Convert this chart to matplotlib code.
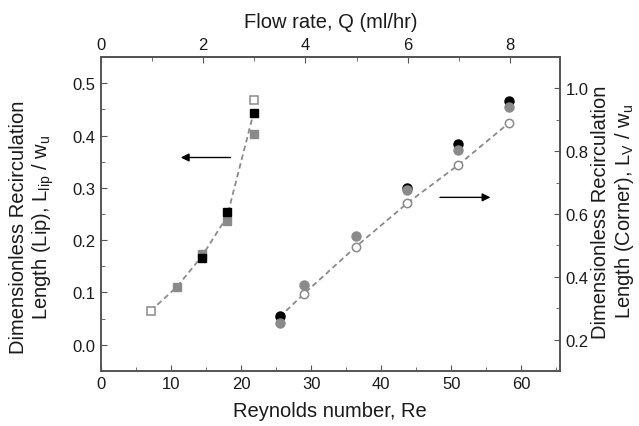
import matplotlib
matplotlib.use("Agg")
import matplotlib.pyplot as plt
from matplotlib.ticker import MultipleLocator

plt.rcParams['font.family'] = ['Liberation Sans', 'DejaVu Sans']
plt.rcParams['mathtext.fontset'] = 'custom'
plt.rcParams['mathtext.rm'] = 'Liberation Sans'
plt.rcParams['mathtext.it'] = 'Liberation Sans:italic'
plt.rcParams['mathtext.bf'] = 'Liberation Sans:bold'

# Lip data (left axis)
re_lip_open = [7.1, 21.8]
lip_open = [0.065, 0.468]
re_lip_black = [14.4, 18.0, 21.8]
lip_black = [0.165, 0.253, 0.444]
re_lip_gray = [10.8, 14.4, 18.0, 21.8]
lip_gray = [0.110, 0.173, 0.236, 0.403]
re_lip_fit = [7.1, 10.8, 14.4, 18.0, 21.8]
lip_fit = [0.065, 0.110, 0.169, 0.245, 0.444]

# Corner data (right axis)
re_cor_black = [25.5, 43.7, 51.0, 58.3]
cor_black = [0.274, 0.683, 0.822, 0.959]
re_cor_gray = [25.5, 29.0, 36.4, 43.7, 51.0, 58.3]
cor_gray = [0.253, 0.375, 0.530, 0.677, 0.803, 0.941]
re_cor_open = [25.5, 29.0, 36.4, 43.7, 51.0, 58.3]
cor_open = [0.272, 0.346, 0.496, 0.634, 0.756, 0.891]

re_per_q = 7.3

GRAY = "#8a8a8a"
SPINE = "#555555"
TXT = "#1a1a1a"

fig = plt.figure(figsize=(6.39, 4.27), dpi=100)
ax = fig.add_axes([0.158, 0.129, 0.718, 0.735])
ax2 = ax.twinx()

ax.plot(re_lip_fit, lip_fit, ls=(0, (3, 2)), color=GRAY, lw=1.3, zorder=1)
ax.plot(re_lip_gray, lip_gray, ls='none', marker='s', ms=5.5, mfc=GRAY, mec=GRAY, zorder=2)
ax.plot(re_lip_black, lip_black, ls='none', marker='s', ms=5.5, mfc='black', mec='black', zorder=3)
ax.plot(re_lip_open, lip_open, ls='none', marker='s', ms=5.5, mfc='white', mec=GRAY, mew=1.1, zorder=4)

ax2.plot(re_cor_open, cor_open, ls=(0, (3, 2)), color=GRAY, lw=1.3, zorder=1)
ax2.plot(re_cor_open, cor_open, ls='none', marker='o', ms=6, mfc='white', mec=GRAY, mew=1.1, zorder=2)
ax2.plot(re_cor_black, cor_black, ls='none', marker='o', ms=6.5, mfc='black', mec='black', zorder=3)
ax2.plot(re_cor_gray, cor_gray, ls='none', marker='o', ms=6.5, mfc=GRAY, mec=GRAY, zorder=4)

ax.annotate('', xy=(11.0, 0.358), xytext=(18.9, 0.358),
            arrowprops=dict(arrowstyle='-|>', color='black', lw=1.0, mutation_scale=12))
ax2.annotate('', xy=(56.0, 0.653), xytext=(48.0, 0.653),
             arrowprops=dict(arrowstyle='-|>', color='black', lw=1.0, mutation_scale=12))

ax.set_xlim(0, 65.5)
ax.set_ylim(-0.05, 0.55)
ax2.set_ylim(0.1, 1.1)

ax.xaxis.set_major_locator(MultipleLocator(10))
ax.xaxis.set_minor_locator(MultipleLocator(5))
ax.yaxis.set_major_locator(MultipleLocator(0.1))
ax.yaxis.set_minor_locator(MultipleLocator(0.05))
ax2.yaxis.set_major_locator(MultipleLocator(0.2))
ax2.yaxis.set_minor_locator(MultipleLocator(0.1))

secx = ax.secondary_xaxis('top', functions=(lambda r: r / re_per_q, lambda q: q * re_per_q))
secx.xaxis.set_major_locator(MultipleLocator(2))
secx.xaxis.set_minor_locator(MultipleLocator(1))

fs_tick = 12
fs_lab = 14.5
for a in (ax, ax2, secx):
    for s in a.spines.values():
        s.set_color(SPINE)
        s.set_linewidth(1.2)

for a, axis in ((ax, 'both'), (ax2, 'y'), (secx, 'x')):
    a.tick_params(axis=axis, which='both', direction='in', colors=SPINE, labelcolor=TXT, labelsize=fs_tick)
    a.tick_params(axis=axis, which='major', length=4.5, pad=4)
    a.tick_params(axis=axis, which='minor', length=3)

ax.set_xlabel('Reynolds number, Re', fontsize=fs_lab, color=TXT, labelpad=7)
secx.set_xlabel('Flow rate, Q (ml/hr)', fontsize=fs_lab, color=TXT, labelpad=7)
ax.set_ylabel('Dimensionless Recirculation\nLength (Lip), L$_{\\rm lip}$ / w$_{\\rm u}$',
              fontsize=fs_lab, color=TXT, linespacing=1.15)
ax.yaxis.set_label_coords(-0.098, 0.46)
ax2.set_ylabel('Dimensionless Recirculation\nLength (Corner), L$_{\\rm V}$ / w$_{\\rm u}$',
               fontsize=fs_lab, color=TXT, rotation=90, linespacing=1.15)
ax2.yaxis.set_label_position('right')
ax2.yaxis.set_label_coords(1.068, 0.51)

fig.savefig('out.png', dpi=100)
